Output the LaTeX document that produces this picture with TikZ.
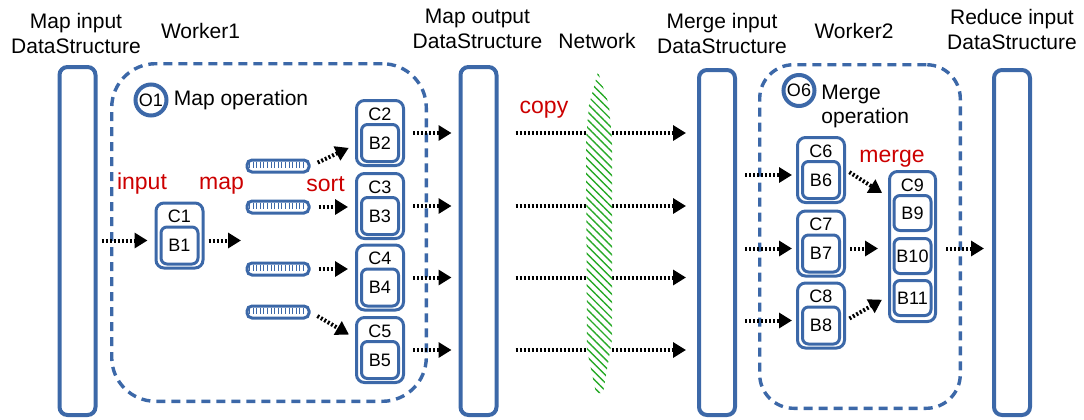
\documentclass[tikz,border=0pt]{standalone}
\usepackage{fontspec}
\setmainfont{Liberation Sans}
\usetikzlibrary{arrows.meta}
\usetikzlibrary{calc}
\usetikzlibrary{patterns.meta}
\usetikzlibrary{positioning}

\definecolor{dsblue}{RGB}{60,104,168}
\definecolor{opred}{RGB}{204,0,0}
\definecolor{netgreen}{RGB}{40,170,40}

\tikzset{
    dsbar/.style={draw=dsblue, line width=2pt, rounded corners=4pt, minimum width=18pt, inner sep=0pt},
    worker/.style={draw=dsblue, line width=1.7pt, dash pattern=on 4.5pt off 3pt, inner sep=0pt},
    chunk/.style={draw=dsblue, line width=1.5pt, rounded corners=4pt, minimum width=23.5pt, minimum height=32.5pt, inner sep=0pt},
    block/.style={draw=dsblue, fill=white, line width=1.5pt, rounded corners=3pt, minimum width=18.5pt, minimum height=18.5pt, inner sep=0pt, font=\fontsize{9}{10}\selectfont},
    buffer/.style={draw=dsblue, line width=1.5pt, rounded corners=2.5pt, minimum width=31pt, minimum height=6pt, inner sep=0pt},
    stripe/.style={dsblue, line width=0.5pt},
    opcircle/.style={circle, draw=dsblue, line width=2pt, minimum size=15.5pt, inner sep=0pt, font=\fontsize{9}{10}\selectfont},
    dshead/.style={align=center, inner sep=0pt, anchor=north, font=\fontsize{10.5}{12.5}\selectfont},
    optext/.style={align=left, inner sep=0pt, font=\fontsize{10.5}{12}\selectfont},
    tag/.style={inner sep=0pt, anchor=base, font=\fontsize{9}{10}\selectfont},
    redlbl/.style={text=opred, inner sep=0pt, anchor=base, font=\fontsize{11.5}{13}\selectfont},
    flow/.style={line width=2pt, dash pattern=on 1pt off 1pt, -{Triangle[length=6.5pt,width=7.5pt]}, shorten <=2pt, shorten >=3.5pt}
}

\begin{document}
\begin{tikzpicture}[x=0.5pt, y=-0.5pt]
    \useasboundingbox (0,0) rectangle (1084,419);

    % workers
    \node[worker, rounded corners=22pt, minimum width=157.3pt, minimum height=168.8pt] (worker1) at (269,232.5) {};
    \node[worker, rounded corners=17pt, minimum width=100.3pt, minimum height=171.8pt] (worker2) at (860,236.5) {};
    \node[dshead, anchor=base] (w1lbl) at (200.5,38) {Worker1};
    \node[dshead, anchor=base] (w2lbl) at (854,38) {Worker2};

    % data structures
    \node[dsbar, minimum height=174pt] (mapin) at (77.5,241) {};
    \node[dsbar, minimum height=174pt] (mapout) at (478.5,241) {};
    \node[dsbar, minimum height=172.5pt] (mergein) at (717,242.5) {};
    \node[dsbar, minimum height=172.5pt] (reducein) at (1012,242.5) {};
    \node[dshead] (mapinlbl) at (76,13) {Map input\\DataStructure};
    \node[dshead] (mapoutlbl) at (477.5,9) {Map output\\DataStructure};
    \node[dshead] (mergeinlbl) at (722,13) {Merge input\\DataStructure};
    \node[dshead] (reduceinlbl) at (1012,9) {Reduce input\\DataStructure};
    \node[dshead, anchor=base] (netlbl) at (597,48) {Network};

    % operations
    \node[opcircle] (o1) at (151,100) {O1};
    \node[optext, right=2.5pt of o1] (o1txt) {Map operation};
    \node[opcircle] (o6) at (799,90.5) {O6};
    \node[optext, anchor=north west] (o6txt) at (821,85) {Merge\\operation};

    % map side chunks
    \node[chunk] (c1) at (179.5,235.5) {};
    \node[tag] (lblc1) at (179.5,222.5) {C1};
    \node[block] (b1) at (179.5,245.5) {B1};
    \coordinate (m1) at ($(c1)!0.5!(b1)$);
    \foreach \i/\y in {2/133,3/206,4/277.5,5/350} {
        \node[chunk] (c\i) at (380,\y) {};
        \node[tag] (lblc\i) at (380,\y-13) {C\i};
        \node[block] (b\i) at (380,\y+10) {B\i};
    }

    % sorted buffers
    \foreach \i/\y in {1/166,2/207,3/269,4/312} {
        \node[buffer] (buf\i) at (278,\y) {};
        \foreach \s in {0,...,15}
            \draw[stripe] ([xshift=2pt+\s*1.8pt, yshift=-1.5pt]buf\i.north west) -- ++(0,-3pt);
    }

    % merge side chunks
    \foreach \i/\y in {6/170,7/243.5,8/315.5} {
        \node[chunk] (c\i) at (821,\y) {};
        \node[tag] (lblc\i) at (821,\y-13) {C\i};
        \node[block] (b\i) at (821,\y+10) {B\i};
        \coordinate (m\i) at ($(c\i)!0.5!(b\i)$);
    }
    \node[chunk, minimum width=23pt, minimum height=75pt] (c9) at (912.5,246.5) {};
    \node[tag] (lblc9) at (912.5,191) {C9};
    \foreach \i/\y in {9/213,10/256,11/298}
        \node[block, minimum height=17.5pt] (b\i) at (912.5,\y) {B\i};

    % map flows
    \coordinate (sorthub) at (248,240.5);
    \draw[flow] (mapin.east |- m1) -- (m1 -| c1.west);
    \draw[flow] (m1 -| c1.east) -- (sorthub);
    \draw[flow, shorten <=4pt] (buf1.east) -- ($(c2.south west)!0.65!(c2.west)$);
    \draw[flow, shorten <=4pt] (buf2.east) -- (buf2.east -| c3.west);
    \draw[flow, shorten <=4pt] (buf3.east) -- (buf3.east -| c4.west);
    \draw[flow, shorten <=4pt] (buf4.east) -- ($(c5.north west)!0.65!(c5.west)$);
    \foreach \i in {2,...,5} {
        \draw[flow, shorten <=4pt] (c\i.east) -- (c\i.east -| mapout.west);
        \draw[flow, shorten <=8.5pt, shorten >=5.5pt] (c\i.east -| mapout.east) -- (c\i.east -| mergein.west);
    }

    % network
    \path[fill=white, postaction={pattern={Lines[angle=-45,distance=2.8pt,line width=0.7pt]}, pattern color=netgreen}]
        (598,72) -- (609,105) -- (612,140) -- (612,340) -- (603,393) -- (596,393) -- (587,350) -- (586,140) -- (589,105) -- cycle;

    % merge flows
    \foreach \i in {6,7,8}
        \draw[flow, shorten <=4pt, shorten >=2pt] (mergein.east |- m\i) -- (m\i -| c\i.west);
    \draw[flow] (c6.east) -- ($(c9.north west)!0.35!(c9.west)$);
    \draw[flow, shorten >=5pt] (m7 -| c7.east) -- (m7 -| c9.west);
    \draw[flow] (m8 -| c8.east) -- ($(c9.south west)!0.35!(c9.west)$);
    \draw[flow, shorten <=4.5pt, shorten >=4pt] (c9.east |- m7) -- (m7 -| reducein.west);

    % step labels
    \node[redlbl] (inputlbl) at (142,189) {input};
    \node[redlbl] (maplbl) at (221.5,189) {map};
    \node[redlbl] (sortlbl) at (325.5,191) {sort};
    \node[redlbl] (copylbl) at (544,113) {copy};
    \node[redlbl] (mergelbl) at (892,162) {merge};

\end{tikzpicture}
\end{document}
